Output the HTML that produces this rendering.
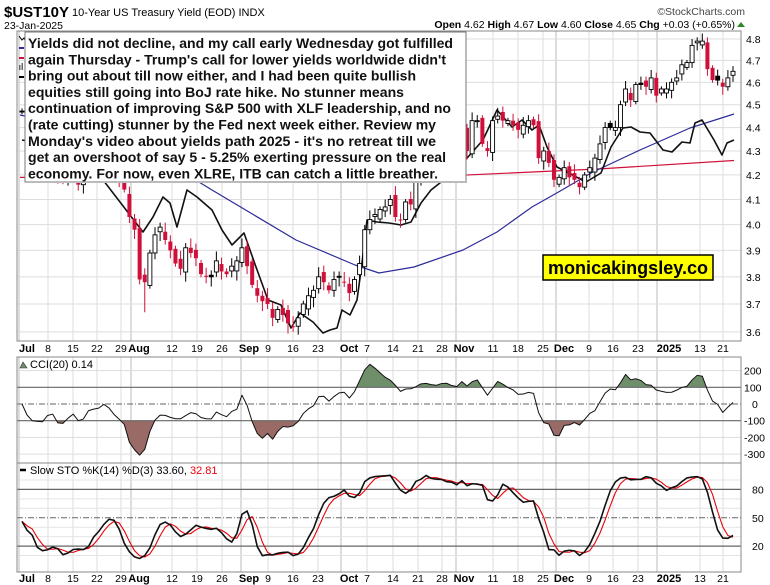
<!DOCTYPE html>
<html><head><meta charset="utf-8"><style>
html,body{margin:0;padding:0;background:#fff;}
svg{display:block;font-family:"Liberation Sans",Arial,sans-serif;}
</style></head><body>
<svg id="s" width="770" height="585" viewBox="0 0 770 585" xmlns="http://www.w3.org/2000/svg"></svg>
<script>
const S=document.getElementById('s');let h='';
const closes=[4.47,4.43,4.36,4.28,4.28,4.30,4.28,4.20,4.18,4.23,4.23,4.16,4.20,4.24,4.26,4.25,4.28,4.24,4.20,4.18,4.14,4.03,
3.98,3.79,3.78,3.89,3.96,3.99,3.94,3.90,3.85,3.83,3.91,3.89,3.87,3.81,3.80,3.80,3.86,3.82,3.81,3.84,3.86,3.91,
3.84,3.77,3.73,3.71,3.70,3.65,3.68,3.66,3.63,3.62,3.65,3.70,3.73,3.75,3.80,3.78,3.75,3.79,3.80,3.78,
3.74,3.79,3.85,3.98,4.02,4.04,4.06,4.07,4.10,4.03,4.02,4.09,4.08,4.18,4.20,4.24,4.21,4.24,4.28,4.26,4.29,4.28,4.38,
4.30,4.43,4.43,4.33,4.30,4.43,4.45,4.43,4.43,4.41,4.39,4.41,4.43,4.41,4.27,4.30,4.25,4.18,4.19,4.23,
4.19,4.18,4.15,4.20,4.23,4.27,4.33,4.40,4.40,4.40,4.50,4.57,4.52,4.59,4.59,4.58,4.62,4.54,4.57,
4.57,4.60,4.62,4.68,4.69,4.77,4.79,4.79,4.66,4.61,4.61,4.58,4.62,4.65];
const N=closes.length,x0=22,dx=(733-22)/(N-1);
const X=i=>x0+i*dx;
const Y=p=>39+(Math.log(4.8)-Math.log(p))*1018;
const L=17,R=741;
// frames
function rect(x,y,w,hh,f,s,sw){return `<rect x="${x}" y="${y}" width="${w}" height="${hh}" fill="${f}" stroke="${s||'none'}" stroke-width="${sw||1}"/>`;}
// header
h+=`<text x="4" y="17" font-size="15" font-weight="bold">$UST10Y</text><text x="72" y="16" font-size="11">10-Year US Treasury Yield (EOD) INDX</text>`;
h+=`<text x="4" y="29" font-size="10.5">23-Jan-2025</text>`;
h+=`<text x="745" y="15" font-size="10.5" text-anchor="end" fill="#444">©StockCharts.com</text>`;
h+=`<text x="735" y="28" font-size="10.5" text-anchor="end"><tspan font-weight="bold">Open</tspan> 4.62 <tspan font-weight="bold">High</tspan> 4.67 <tspan font-weight="bold">Low</tspan> 4.60 <tspan font-weight="bold">Close</tspan> 4.65 <tspan font-weight="bold">Chg</tspan> +0.03 (+0.65%)</text><path d="M737 27 L745 27 L741 22Z" fill="#2a8a2a"/>`;
// grids
const dates=[["Jul",27,1],["8",48],["15",73],["22",97],["29",121],["Aug",139,1],["12",172],["19",197],["26",222],["Sep",249,1],["9",268],["16",293],["23",318],["Oct",349,1],["7",367],["14",393],["21",418],["28",442],["Nov",464,1],["11",493],["18",518],["25",543],["Dec",564,1],["9",589],["16",613],["23",638],["2025",669,1],["13",700],["21",723]];
function vgrid(y1,y2){let s='';dates.forEach(d=>{let gx=d[2]?d[1]-8:d[1];if(d[0]=="2025")gx=d[1]-12;s+=`<line x1="${gx}" y1="${y1}" x2="${gx}" y2="${y2}" stroke="${d[2]?'#bbb':'#ddd'}" stroke-width="1"/>`;});return s;}
h+=rect(L,31,R-L,310,'#fff');
h+=vgrid(31,341);
[4.8,4.7,4.6,4.5,4.4,4.3,4.2,4.1,4.0,3.9,3.8,3.7,3.6].forEach(p=>{const y=Y(p);h+=`<line x1="${L}" y1="${y}" x2="${R}" y2="${y}" stroke="#ddd"/><text x="746" y="${y+4}" font-size="10.5">${p.toFixed(1)}</text>`;});
// MAs
function poly(pts,c,w){return `<polyline points="${pts.map(p=>p.join(',')).join(' ')}" fill="none" stroke="${c}" stroke-width="${w}" stroke-linejoin="round"/>`;}
h+=poly([[20,Y(4.19)],[200,Y(4.19)],[468,Y(4.20)],[600,Y(4.225)],[734,Y(4.26)]],'#d0103a',1.2);
h+=poly([[20,115],[100,Y(4.38)],[160,Y(4.27)],[212,190],[296,240],[355,265],[379,273],[414,267],[463,250],[497,232],[532,207],[562,190],[591,173],[640,150],[690,128],[734,114]],'#2b2b9a',1.2);
h+=poly([[22,140],[80,150],[143,232],[153,217],[163,197],[170,203],[177,227],[187,190],[197,197],[212,210],[222,230],[232,245],[244,233],[256,267],[268,300],[281,305],[291,328],[300,313],[313,322],[323,333],[330,330],[337,328],[342,310],[350,315],[357,300],[362,263],[367,220],[377,222],[389,223],[401,225],[411,222],[421,203],[431,190],[450,175],[468,157],[483,140],[497,110],[512,127],[522,120],[532,130],[539,125],[547,147],[557,167],[586,182],[601,173],[611,147],[623,128],[631,127],[640,132],[650,133],[663,150],[672,152],[682,142],[690,143],[695,123],[702,120],[714,140],[722,155],[727,143],[734,140]],'#111',1.6);
// candles
const O=[],H=[],Lo=[];
for(let i=0;i<N;i++){const c=closes[i],pc=i?closes[i-1]:c+0.02;const o=pc+((i*37%7)-3)*0.006;O.push(o);H.push(Math.max(o,c)+0.012+(i*13%5)*0.006);Lo.push(Math.min(o,c)-0.012-(i*17%5)*0.006);}
Lo[24]=3.67;
for(let i=0;i<N;i++){const c=closes[i],pc=i?closes[i-1]:c,o=O[i],x=X(i);const red=c<pc;const col=red?'#d0103a':'#000';
h+=`<line x1="${x}" y1="${Y(H[i])}" x2="${x}" y2="${Y(Lo[i])}" stroke="${col}" stroke-width="1"/>`;
const t=Y(Math.max(o,c)),b=Y(Math.min(o,c));const fill=red?'#d0103a':(c<o?'#000':'#fff');
h+=`<rect x="${x-2}" y="${t}" width="4" height="${Math.max(1,b-t)}" fill="${fill}" stroke="${col}" stroke-width="${red?0:0.9}"/>`;}
h+=`<rect x="${L}" y="31" width="${R-L}" height="310" fill="none" stroke="#888"/>`;
// legend marks
h+=`<path d="M19 36 l3 4 l2 -2 l2 4" stroke="#000" fill="none"/><line x1="19" y1="48" x2="24" y2="48" stroke="#2b2b9a" stroke-width="2"/><line x1="19" y1="58" x2="24" y2="58" stroke="#d0103a" stroke-width="2"/><rect x="19" y="65" width="1.5" height="5" fill="#666"/><rect x="21.5" y="63" width="1.5" height="7" fill="#666"/><line x1="19" y1="77" x2="24" y2="77" stroke="#000" stroke-width="2"/>`;
// annotation
h+=`<rect x="25" y="32" width="441" height="150" fill="#fff" stroke="#777" stroke-width="1"/><rect x="26" y="181" width="441" height="2" fill="#bbb"/>`;
const lines=[["Yields did not decline, and my call early Wednesday got fulfilled",425],["again Thursday - Trump's call for lower yields worldwide didn't",418],["bring out about till now either, and I had been quite bullish",388],["equities still going into BoJ rate hike. No stunner means",376],["continuation of improving S&P 500 with XLF leadership, and no",423],["(rate cutting) stunner by the Fed next week either. Review my",408],["Monday's video about yields path 2025 - it's no retreat till we",408],["get an overshoot of say 5 - 5.25% exerting pressure on the real",418],["economy. For now, even XLRE, ITB can catch a little breather.",410]];
lines.forEach((l,i)=>{h+=`<text x="28" y="${48+i*16.3}" font-size="13.5" font-weight="bold" fill="#111" textLength="${l[1]}" lengthAdjust="spacingAndGlyphs">${l[0].replace(/&/g,'&amp;')}</text>`;});
// logo
h+=`<rect x="543" y="255" width="170" height="25" fill="#ffff00" stroke="#000" stroke-width="1.5"/><text x="628" y="274" font-size="18" font-weight="bold" text-anchor="middle" textLength="160" lengthAdjust="spacingAndGlyphs">monicakingsley.co</text>`;
// date labels
function dlabels(y){let s='';dates.forEach(d=>{s+=`<text x="${d[1]}" y="${y}" font-size="${d[2]?11:10.5}" ${d[2]?'font-weight="bold"':''} text-anchor="middle">${d[0]}</text>`;});return s;}
h+=dlabels(352);
// CCI
const cy=v=>404-v*0.167;
h+=rect(L,357,R-L,106,'#fff');h+=vgrid(357,463);
[200,-200,-300].forEach(v=>h+=`<line x1="${L}" y1="${cy(v)}" x2="${R}" y2="${cy(v)}" stroke="#ddd"/>`);
[[200,'200'],[100,'100'],[0,'0'],[-100,'-100'],[-200,'-200'],[-300,'-300']].forEach(a=>h+=`<text x="${a[0]==0?752:744}" y="${cy(a[0])+4}" font-size="10.5">${a[1]}</text>`);
const tp=closes.map((c,i)=>(c+H[i]+Lo[i])/3);const cci=[];
for(let i=0;i<N;i++){const a=Math.max(0,i-19);const w=tp.slice(a,i+1);const m=w.reduce((s,v)=>s+v,0)/w.length;const md=w.reduce((s,v)=>s+Math.abs(v-m),0)/w.length;cci.push(md?Math.max(-330,Math.min(290,(tp[i]-m)/(0.015*md))):0);}
let cp=cci.map((v,i)=>[X(i),cy(v)]);
h+=`<clipPath id="ca"><rect x="${L}" y="357" width="${R-L}" height="${cy(100)-357}"/></clipPath><clipPath id="cb"><rect x="${L}" y="${cy(-100)}" width="${R-L}" height="${463-cy(-100)}"/></clipPath>`;
h+=`<polygon clip-path="url(#ca)" points="${X(0)},${cy(100)} ${cp.map(p=>p.join(',')).join(' ')} ${X(N-1)},${cy(100)}" fill="#6f8f6a"/>`;
h+=`<polygon clip-path="url(#cb)" points="${X(0)},${cy(-100)} ${cp.map(p=>p.join(',')).join(' ')} ${X(N-1)},${cy(-100)}" fill="#9a6a66"/>`;
h+=`<line x1="${L}" y1="${cy(100)}" x2="${R}" y2="${cy(100)}" stroke="#666" stroke-width="1.2"/><line x1="${L}" y1="${cy(-100)}" x2="${R}" y2="${cy(-100)}" stroke="#666" stroke-width="1.2"/><line x1="${L}" y1="${cy(0)}" x2="${R}" y2="${cy(0)}" stroke="#666" stroke-dasharray="6,2,1,2"/>`;
h+=poly(cp,'#111',1);
h+=`<rect x="${L}" y="357" width="${R-L}" height="106" fill="none" stroke="#888"/>`;
h+=`<path d="M20 368 l3 -6 l4 6z" fill="#6f8f6a" stroke="#333" stroke-width=".6"/><text x="30" y="368" font-size="11">CCI(20) 0.14</text>`;
// STO
const sy=v=>565-v*0.945;
h+=rect(L,463,R-L,109,'#fff');h+=vgrid(463,572);
[10,30,40,60,70,90].forEach(v=>h+=`<line x1="${L}" y1="${sy(v)}" x2="${R}" y2="${sy(v)}" stroke="#e4e4e4"/>`);
const fk=[];for(let i=0;i<N;i++){const a=Math.max(0,i-13);let hh=-1,ll=9;for(let j=a;j<=i;j++){hh=Math.max(hh,H[j]);ll=Math.min(ll,Lo[j]);}fk.push(100*(closes[i]-ll)/(hh-ll));}
const sm=(arr,n)=>arr.map((v,i)=>{const a=Math.max(0,i-n+1);const w=arr.slice(a,i+1);return w.reduce((s,x)=>s+x,0)/w.length;});
const K=sm(fk,3),D=sm(K,3);
[[80,'#666'],[20,'#666']].forEach(a=>h+=`<line x1="${L}" y1="${sy(a[0])}" x2="${R}" y2="${sy(a[0])}" stroke="${a[1]}" stroke-width="1.2"/>`);
h+=`<line x1="${L}" y1="${sy(50)}" x2="${R}" y2="${sy(50)}" stroke="#666" stroke-dasharray="6,2,1,2"/>`;
[80,50,20].forEach(v=>h+=`<text x="752" y="${sy(v)+4}" font-size="10.5">${v}</text>`);
h+=poly(D.map((v,i)=>[X(i),sy(v)]),'#e8000b',1.1);
h+=poly(K.map((v,i)=>[X(i),sy(v)]),'#111',1.6);
h+=`<rect x="${L}" y="463" width="${R-L}" height="109" fill="none" stroke="#888"/>`;
h+=`<line x1="20" y1="470" x2="26" y2="470" stroke="#000" stroke-width="2.5"/><text x="30" y="474" font-size="11">Slow STO %K(14) %D(3) 33.60, <tspan fill="#e8000b">32.81</tspan></text>`;
h+=dlabels(582);
S.innerHTML=h;
</script>
</body></html>
